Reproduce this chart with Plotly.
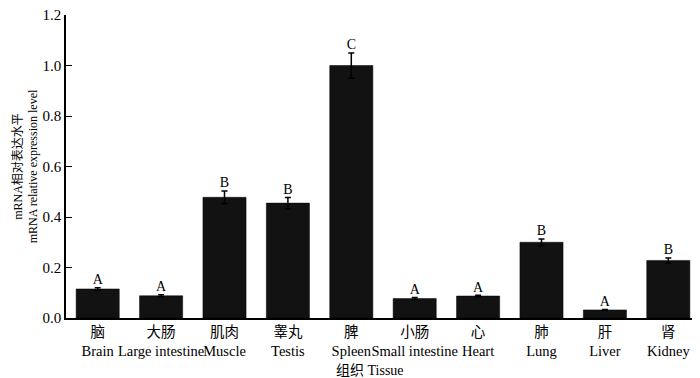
import plotly.graph_objects as go

tissues_cn = ["脑", "大肠", "肌肉", "睾丸", "脾", "小肠", "心", "肺", "肝", "肾"]
tissues_en = ["Brain", "Large intestine", "Muscle", "Testis", "Spleen",
              "Small intestine", "Heart", "Lung", "Liver", "Kidney"]
values = [0.115, 0.088, 0.478, 0.455, 1.0, 0.077, 0.087, 0.300, 0.032, 0.228]
errors = [0.005, 0.004, 0.025, 0.022, 0.05, 0.004, 0.003, 0.013, 0.002, 0.010]
letters = ["A", "A", "B", "B", "C", "A", "A", "B", "A", "B"]
y_ticks = [0.0, 0.2, 0.4, 0.6, 0.8, 1.0, 1.2]

labels = [f"{c}<br>{e}" for c, e in zip(tissues_cn, tissues_en)]
x = list(range(len(labels)))

FONT = "Liberation Serif, Times New Roman, Noto Sans CJK SC, serif"

fig = go.Figure()
fig.add_trace(go.Bar(
    x=x, y=values,
    marker=dict(color="#121212", line=dict(color="#000000", width=0.5)),
    error_y=dict(type="data", array=errors, visible=True,
                 color="#000000", thickness=1.5, width=3),
    width=0.68,
    showlegend=False,
))
fig.add_trace(go.Scatter(
    x=x, y=[v + e for v, e in zip(values, errors)],
    mode="text", text=letters, textposition="top center",
    textfont=dict(family=FONT, size=14, color="#000000"),
    showlegend=False, hoverinfo="skip", cliponaxis=False,
))

fig.add_annotation(
    text="组织 Tissue", xref="paper", yref="paper",
    x=0.48, y=-52 / 303, xanchor="center", yanchor="middle",
    showarrow=False, font=dict(family=FONT, size=14, color="#000000"),
)

fig.update_layout(
    width=692, height=370,
    margin=dict(l=58, r=0, t=7, b=60),
    paper_bgcolor="white", plot_bgcolor="white",
    font=dict(family=FONT, size=14, color="#000000"),
    bargap=0.32,
    xaxis=dict(
        range=[-0.5, 9.5], automargin=False,
        tickmode="array", tickvals=x, ticktext=labels, tickangle=0,
        showline=True, linecolor="#000000", linewidth=1.5,
        ticks="", showgrid=False, zeroline=False,
        tickfont=dict(family=FONT, size=14.5),
    ),
    yaxis=dict(
        range=[0, 1.2], automargin=False,
        tickmode="array", tickvals=y_ticks,
        ticktext=[f"{t:.1f}" for t in y_ticks],
        ticklabeloverflow="allow",
        showline=True, linecolor="#000000", linewidth=1.5,
        ticks="inside", ticklen=6, tickcolor="#000000", tickwidth=1.2,
        showgrid=False, zeroline=False,
        tickfont=dict(family=FONT, size=15),
        title=dict(text="mRNA相对表达水平<br>mRNA relative expression level",
                   font=dict(family=FONT, size=12), standoff=2),
    ),
)

fig.write_html("out.html")
